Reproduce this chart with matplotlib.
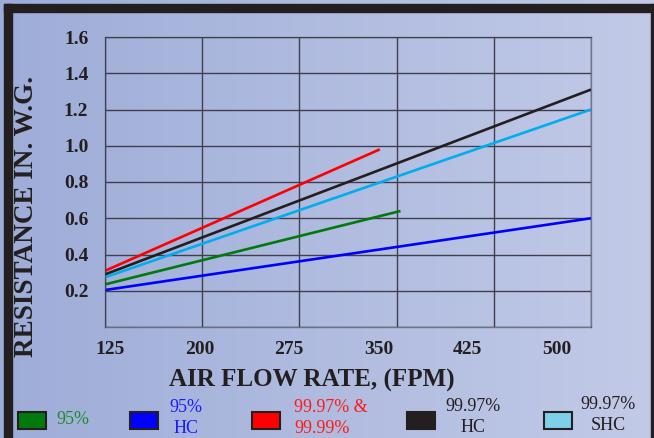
import numpy as np
import matplotlib.pyplot as plt
import matplotlib.transforms as mtransforms
from matplotlib.patches import Rectangle

# Данные: расход воздуха (FPM) и сопротивление (in. W.G.)
x_ticks = [125, 200, 275, 350, 425, 500]
y_ticks = [0.2, 0.4, 0.6, 0.8, 1.0, 1.2, 1.4, 1.6]

labels = ['95%', '95%\nHC', '99.97% &\n99.99%', '99.97%\nHC', '99.97%\nSHC']
x_start = [125, 125, 125, 125, 125]
x_end = [353, 500, 337, 500, 500]
y_start = [0.235, 0.204, 0.31, 0.29, 0.274]
y_end = [0.64, 0.60, 0.98, 1.31, 1.20]
line_colors = ['#007a0c', '#0000ff', '#ff0000', '#231f20', '#00aeef']
box_colors = ['#007a0c', '#0000ff', '#ff0000', '#231f20', '#7ecfe8']
text_colors = ['#1f8a2a', '#1a1aff', '#ff1a1a', '#231f20', '#231f20']

W, H = 654, 438
fig = plt.figure(figsize=(W / 100, H / 100), dpi=100)

# Фон с градиентом
bg = fig.add_axes([0, 0, 1, 1], zorder=-10)
grad = np.linspace(0, 1, 256).reshape(1, -1)
c0 = np.array([158, 173, 216]) / 255
c1 = np.array([194, 202, 231]) / 255
img = c0[None, None, :] * (1 - grad[..., None]) + c1[None, None, :] * grad[..., None]
bg.imshow(img, aspect='auto', extent=[0, 1, 0, 1])
bg.set_axis_off()

# Рамка
dark = '#231f20'
fig.patches.append(Rectangle((4 / W, 0), 8 / W, 1 - 4 / H, transform=fig.transFigure, color=dark))
fig.patches.append(Rectangle((4 / W, 1 - 12 / H), 1 - 4 / W, 8 / H, transform=fig.transFigure, color=dark))
fig.patches.append(Rectangle((651 / W, 0), 2 / W, 1 - 4 / H, transform=fig.transFigure, color=dark))

ax = fig.add_axes([105 / W, 1 - 327 / H, (591 - 105) / W, (327 - 37) / H])
ax.patch.set_alpha(0)
ax.set_xlim(125, 500)
ax.set_ylim(0, 1.6)

for i in range(len(labels)):
    ax.plot([x_start[i], x_end[i]], [y_start[i], y_end[i]], color=line_colors[i],
            lw=1.9, solid_capstyle='butt')

grid_c = (0.25, 0.25, 0.3, 0.6)
ax.set_xticks(x_ticks)
ax.set_yticks([0] + y_ticks)
ax.grid(True, color=grid_c, lw=1)
for s in ax.spines.values():
    s.set_color(grid_c)
    s.set_linewidth(1)
ax.tick_params(length=0)
ax.set_xticklabels([])
ax.set_yticklabels([''] + ['%.1f' % v for v in y_ticks], fontfamily='Liberation Serif',
                   fontweight='bold', fontsize=14, color=dark)
ax.tick_params(axis='y', pad=12)

# Подписи оси X (в оригинале сдвинуты относительно сетки)
off = mtransforms.offset_copy(ax.get_xaxis_transform(), fig=fig, y=-23, units='dots')
for t in x_ticks:
    ax.text(129 + (t - 125) * 0.92, 0, str(t), transform=off, ha='center', va='center',
            fontfamily='Liberation Serif', fontweight='bold', fontsize=14, color=dark)

fig.text(312 / W, 1 - 380 / H, 'AIR FLOW RATE, (FPM)', ha='center', va='center',
         fontfamily='Liberation Serif', fontweight='bold', fontsize=18, color=dark)
fig.text(27 / W, 1 - 216 / H, 'RESISTANCE IN. W.G.', ha='center', va='center', rotation=90,
         fontfamily='Liberation Serif', fontweight='bold', fontsize=19.5, color=dark)

# Легенда
box_x = [18, 130, 252, 407, 544]
txt_x = [56, 186, 294, 473, 608]
txt_ha = ['left', 'center', 'left', 'center', 'center']
txt_y = [419, 418, 418, 417, 415]
for i in range(len(labels)):
    fig.patches.append(Rectangle((box_x[i] / W, 1 - 429 / H), 28 / W, 17 / H,
                                 transform=fig.transFigure, facecolor=box_colors[i],
                                 edgecolor=dark, lw=1.5))
    fig.text(txt_x[i] / W, 1 - txt_y[i] / H, labels[i], ha=txt_ha[i], va='center',
             multialignment=txt_ha[i], fontfamily='Liberation Serif', fontsize=13,
             color=text_colors[i], linespacing=1.25)

fig.savefig('out.png', dpi=100)
